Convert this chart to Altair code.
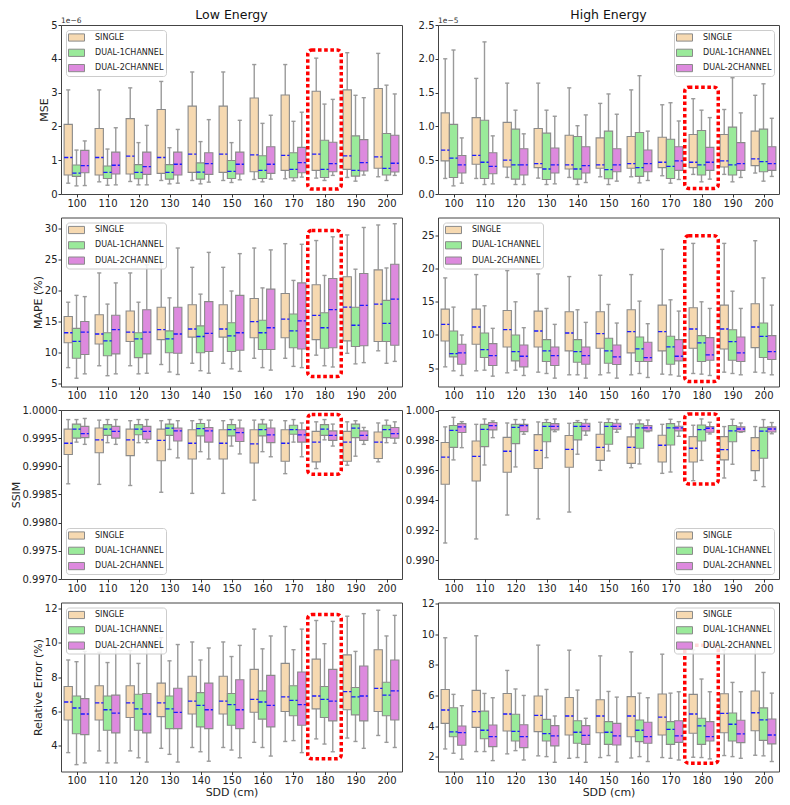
import altair as alt
import pandas as pd

FONT = "DejaVu Sans"
SDD = [100, 110, 120, 130, 140, 150, 160, 170, 180, 190, 200]
SERIES = ["SINGLE", "DUAL-1CHANNEL", "DUAL-2CHANNEL"]
COLORS = ["#f6d9b1", "#9aea9a", "#dd8ade"]
STATS = ["lo", "q1", "mean", "q3", "hi"]

# each row: [whisker low, Q1, mean line, Q3, whisker high], one row per SDD
# ---- Low energy, MSE (x1e-6)
LOW_MSE_SINGLE = [[0.32, 0.56, 1.08, 2.06, 3.08], [0.36, 0.56, 1.08, 1.94, 3.08], [0.37, 0.59, 1.12, 2.23, 3.14],
                  [0.40, 0.61, 1.08, 2.50, 3.33], [0.40, 0.64, 1.18, 2.60, 3.61], [0.40, 0.64, 1.18, 2.60, 3.61],
                  [0.43, 0.66, 1.16, 2.84, 3.83], [0.45, 0.70, 1.14, 2.93, 3.83], [0.47, 0.70, 1.18, 3.04, 4.02],
                  [0.49, 0.73, 1.13, 3.08, 4.18], [0.51, 0.76, 1.10, 3.12, 4.16]]
LOW_MSE_DUAL1 = [[0.24, 0.52, 0.62, 0.86, 1.30], [0.26, 0.46, 0.64, 0.83, 1.33], [0.27, 0.45, 0.64, 0.87, 1.52],
                 [0.30, 0.44, 0.64, 0.87, 1.37], [0.30, 0.44, 0.65, 0.92, 1.55], [0.34, 0.46, 0.67, 0.99, 1.52],
                 [0.36, 0.46, 0.70, 1.13, 2.09], [0.39, 0.48, 0.73, 1.22, 2.15], [0.40, 0.49, 0.73, 1.59, 2.66],
                 [0.38, 0.53, 0.70, 1.72, 2.92], [0.40, 0.56, 0.76, 1.79, 3.22]]
LOW_MSE_DUAL2 = [[0.25, 0.63, 0.84, 1.29, 1.57], [0.27, 0.59, 0.85, 1.24, 1.96], [0.27, 0.58, 0.81, 1.24, 2.03],
                 [0.32, 0.56, 0.88, 1.24, 1.91], [0.35, 0.58, 0.90, 1.22, 2.20], [0.42, 0.59, 0.88, 1.24, 2.18],
                 [0.44, 0.61, 0.88, 1.40, 2.33], [0.50, 0.63, 0.93, 1.38, 2.42], [0.55, 0.66, 0.90, 1.53, 2.80],
                 [0.56, 0.68, 0.93, 1.61, 2.85], [0.55, 0.65, 0.91, 1.74, 2.96]]
# ---- High energy, MSE (x1e-5)
HIGH_MSE_SINGLE = [[0.23, 0.49, 0.65, 1.20, 2.00], [0.23, 0.44, 0.57, 1.13, 1.71], [0.245, 0.40, 0.50, 1.06, 1.64],
                   [0.235, 0.39, 0.45, 0.97, 1.64], [0.245, 0.37, 0.43, 0.87, 1.57], [0.255, 0.38, 0.43, 0.83, 1.34],
                   [0.255, 0.38, 0.45, 0.85, 1.54], [0.27, 0.39, 0.47, 0.84, 1.32], [0.29, 0.39, 0.47, 0.88, 1.41],
                   [0.29, 0.40, 0.49, 0.88, 1.25], [0.31, 0.42, 0.52, 0.93, 1.46]]
HIGH_MSE_DUAL1 = [[0.12, 0.245, 0.53, 1.03, 2.13], [0.14, 0.23, 0.47, 1.09, 2.25], [0.14, 0.22, 0.43, 0.96, 1.24],
                  [0.14, 0.215, 0.37, 0.90, 1.24], [0.14, 0.22, 0.37, 0.85, 1.01], [0.14, 0.225, 0.36, 0.93, 1.48],
                  [0.165, 0.26, 0.39, 0.91, 1.75], [0.16, 0.23, 0.41, 0.81, 1.35], [0.18, 0.28, 0.43, 0.94, 1.24],
                  [0.18, 0.28, 0.43, 0.99, 1.72], [0.19, 0.33, 0.48, 0.96, 1.63]]
HIGH_MSE_DUAL2 = [[0.16, 0.31, 0.43, 0.57, 0.83], [0.15, 0.30, 0.41, 0.61, 0.86], [0.14, 0.28, 0.43, 0.67, 0.89],
                  [0.15, 0.31, 0.43, 0.68, 1.15], [0.17, 0.31, 0.42, 0.70, 1.17], [0.19, 0.33, 0.43, 0.67, 1.18],
                  [0.20, 0.33, 0.45, 0.65, 0.93], [0.215, 0.35, 0.49, 0.70, 1.08], [0.22, 0.35, 0.47, 0.69, 1.13],
                  [0.245, 0.35, 0.45, 0.76, 1.20], [0.26, 0.35, 0.45, 0.70, 1.12]]
# ---- Low energy, MAPE (%)
LOW_MAPE_SINGLE = [[7.6, 11.6, 13.2, 15.8, 18.1], [7.9, 11.4, 13.0, 16.1, 22.8], [7.9, 11.8, 13.3, 16.7, 22.8],
                   [8.1, 12.1, 13.7, 17.3, 24.5], [8.3, 12.5, 13.8, 17.7, 23.7], [8.3, 12.5, 13.8, 17.7, 23.7],
                   [9.1, 12.4, 15.0, 18.7, 26.8], [9.1, 12.4, 15.4, 19.5, 27.5], [9.6, 12.1, 16.0, 20.9, 28.0],
                   [9.9, 11.9, 17.3, 22.2, 28.9], [10.3, 11.8, 17.8, 23.3, 30.5]]
LOW_MAPE_DUAL1 = [[5.9, 9.1, 11.8, 13.9, 19.2], [6.3, 9.5, 11.9, 13.2, 17.8], [6.6, 9.2, 12.2, 13.2, 18.1],
                  [6.9, 10.0, 12.2, 13.5, 18.8], [7.1, 10.0, 12.6, 14.3, 19.4], [7.4, 10.2, 12.7, 14.8, 19.9],
                  [7.6, 10.5, 13.2, 15.2, 20.4], [7.8, 10.8, 13.5, 16.2, 21.6], [7.9, 10.7, 14.0, 16.4, 22.4],
                  [8.2, 11.0, 14.4, 17.3, 23.4], [8.3, 11.8, 14.7, 18.4, 23.6]]
LOW_MAPE_DUAL2 = [[6.6, 9.7, 13.3, 15.0, 19.0], [6.6, 9.8, 13.7, 16.0, 21.2], [6.7, 9.8, 13.3, 16.9, 24.1],
                  [6.5, 9.9, 13.0, 17.3, 26.8], [6.7, 10.2, 13.1, 18.2, 26.1], [7.0, 10.4, 13.2, 19.2, 25.9],
                  [7.2, 10.5, 14.0, 20.2, 26.5], [7.6, 10.6, 15.1, 21.2, 27.4], [7.7, 10.8, 16.9, 21.9, 28.6],
                  [8.4, 11.1, 17.6, 22.7, 30.1], [8.6, 11.2, 18.6, 24.2, 30.7]]
# ---- High energy, MAPE (%)
HIGH_MAPE_SINGLE = [[5.2, 9.1, 11.6, 13.9, 18.6], [4.6, 8.6, 11.2, 13.9, 19.1], [4.3, 8.2, 10.8, 13.7, 19.7],
                    [4.4, 8.2, 10.6, 13.6, 19.2], [4.0, 7.6, 10.3, 13.5, 18.8], [4.0, 8.0, 10.2, 13.5, 19.0],
                    [4.0, 7.3, 10.5, 13.8, 19.1], [4.1, 7.6, 10.5, 14.5, 22.9], [4.2, 8.0, 10.9, 14.1, 23.8],
                    [4.4, 7.9, 10.9, 14.5, 23.8], [4.4, 8.1, 11.2, 14.7, 24.2]]
HIGH_MAPE_DUAL1 = [[4.6, 6.7, 7.2, 10.6, 14.2], [4.7, 6.6, 7.8, 10.3, 14.4], [4.7, 6.1, 7.5, 10.0, 15.0],
                   [4.2, 6.0, 7.6, 9.3, 14.0], [4.0, 5.9, 7.5, 9.3, 13.8], [4.3, 5.75, 7.6, 9.5, 14.6],
                   [4.2, 6.0, 7.9, 9.7, 15.1], [4.0, 5.6, 8.2, 9.8, 15.3], [4.1, 6.0, 8.8, 9.9, 15.0],
                   [4.2, 6.2, 9.0, 10.8, 16.6], [4.3, 6.6, 9.8, 11.8, 18.6]]
HIGH_MAPE_DUAL2 = [[3.9, 5.6, 7.3, 8.6, 10.0], [3.8, 5.4, 6.9, 8.7, 11.0], [3.9, 5.2, 6.8, 8.5, 11.1],
                   [3.5, 5.4, 6.9, 8.2, 11.6], [3.5, 5.6, 6.9, 8.2, 11.9], [3.5, 5.55, 6.7, 8.5, 11.8],
                   [3.6, 6.0, 6.6, 8.9, 11.7], [3.8, 6.1, 6.8, 9.3, 13.6], [3.9, 6.2, 7.0, 9.6, 14.0],
                   [4.0, 6.0, 7.3, 9.7, 14.0], [4.0, 6.3, 7.5, 9.9, 14.5]]
# ---- Low energy, SSIM
LOW_SSIM_SINGLE = [[0.99869, 0.99921, 0.99941, 0.99966, 0.99983], [0.99868, 0.99924, 0.99947, 0.99968, 0.99982],
                   [0.99866, 0.99919, 0.99947, 0.99966, 0.99981], [0.99854, 0.99910, 0.99946, 0.99966, 0.99981],
                   [0.99852, 0.99913, 0.99941, 0.99965, 0.99981], [0.99852, 0.99913, 0.99941, 0.99965, 0.99981],
                   [0.99840, 0.99906, 0.99940, 0.99965, 0.99982], [0.99887, 0.99909, 0.99941, 0.99965, 0.99981],
                   [0.99896, 0.99908, 0.99943, 0.99962, 0.99979], [0.99902, 0.99909, 0.99943, 0.99962, 0.99979],
                   [0.99908, 0.99914, 0.99943, 0.99961, 0.99977]]
LOW_SSIM_DUAL1 = [[0.99943, 0.99950, 0.99966, 0.99975, 0.99983], [0.99942, 0.99955, 0.99966, 0.99974, 0.99983],
                  [0.99942, 0.99956, 0.99966, 0.99974, 0.99983], [0.99930, 0.99955, 0.99968, 0.99975, 0.99983],
                  [0.99926, 0.99954, 0.99967, 0.99976, 0.99983], [0.99936, 0.99954, 0.99965, 0.99974, 0.99983],
                  [0.99926, 0.99954, 0.99965, 0.99975, 0.99983], [0.99943, 0.99957, 0.99965, 0.99973, 0.99983],
                  [0.99947, 0.99955, 0.99966, 0.99974, 0.99983], [0.99918, 0.99951, 0.99968, 0.99975, 0.99981],
                  [0.99942, 0.99951, 0.99965, 0.99973, 0.99982]]
LOW_SSIM_DUAL2 = [[0.99939, 0.99951, 0.99958, 0.99971, 0.99985], [0.99939, 0.99950, 0.99962, 0.99971, 0.99983],
                  [0.99942, 0.99948, 0.99962, 0.99971, 0.99983], [0.99915, 0.99945, 0.99963, 0.99968, 0.99981],
                  [0.99913, 0.99943, 0.99963, 0.99969, 0.99982], [0.99922, 0.99944, 0.99960, 0.99968, 0.99982],
                  [0.99917, 0.99942, 0.99956, 0.99968, 0.99982], [0.99917, 0.99943, 0.99956, 0.99965, 0.99977],
                  [0.99936, 0.99946, 0.99955, 0.99963, 0.99975], [0.99939, 0.99946, 0.99955, 0.99963, 0.99969],
                  [0.99941, 0.99950, 0.99958, 0.99969, 0.99979]]
# ---- High energy, SSIM
HIGH_SSIM_SINGLE = [[0.99114, 0.99507, 0.99688, 0.99786, 0.99891], [0.99141, 0.99529, 0.99694, 0.99797, 0.99908],
                    [0.99301, 0.99587, 0.99728, 0.99821, 0.99917], [0.99275, 0.99612, 0.99734, 0.99839, 0.99924],
                    [0.99321, 0.99621, 0.99741, 0.99833, 0.99915], [0.99600, 0.99667, 0.99754, 0.99842, 0.99922],
                    [0.99618, 0.99647, 0.99754, 0.99824, 0.99911], [0.99580, 0.99656, 0.99768, 0.99835, 0.99908],
                    [0.99531, 0.99656, 0.99748, 0.99826, 0.99902], [0.99549, 0.99670, 0.99739, 0.99826, 0.99893],
                    [0.99533, 0.99598, 0.99732, 0.99819, 0.99893]]
HIGH_SSIM_DUAL1 = [[0.99670, 0.99754, 0.99868, 0.99900, 0.99955], [0.99636, 0.99759, 0.99875, 0.99908, 0.99944],
                   [0.99623, 0.99779, 0.99888, 0.99908, 0.99940], [0.99685, 0.99792, 0.99895, 0.99920, 0.99940],
                   [0.99708, 0.99804, 0.99895, 0.99920, 0.99933], [0.99730, 0.99775, 0.99895, 0.99920, 0.99944],
                   [0.99643, 0.99748, 0.99884, 0.99911, 0.99937], [0.99589, 0.99770, 0.99884, 0.99913, 0.99942],
                   [0.99667, 0.99797, 0.99873, 0.99904, 0.99944], [0.99641, 0.99792, 0.99864, 0.99900, 0.99942],
                   [0.99491, 0.99681, 0.99862, 0.99888, 0.99940]]
HIGH_SSIM_DUAL2 = [[0.99752, 0.99853, 0.99891, 0.99913, 0.99926], [0.99819, 0.99871, 0.99900, 0.99920, 0.99931],
                   [0.99842, 0.99859, 0.99900, 0.99908, 0.99940], [0.99859, 0.99871, 0.99895, 0.99913, 0.99944],
                   [0.99835, 0.99864, 0.99895, 0.99915, 0.99940], [0.99855, 0.99875, 0.99895, 0.99915, 0.99940],
                   [0.99859, 0.99864, 0.99884, 0.99900, 0.99937], [0.99828, 0.99864, 0.99884, 0.99895, 0.99926],
                   [0.99844, 0.99855, 0.99882, 0.99893, 0.99922], [0.99855, 0.99859, 0.99877, 0.99891, 0.99917],
                   [0.99845, 0.99857, 0.99877, 0.99891, 0.99920]]
# ---- Low energy, Relative Error (%)
LOW_RE_SINGLE = [[3.6, 5.5, 6.55, 7.45, 9.0], [3.7, 5.5, 6.5, 7.5, 9.45], [3.7, 5.65, 6.5, 7.5, 9.55],
                 [3.85, 5.7, 6.5, 7.65, 10.3], [3.9, 5.85, 6.6, 8.05, 10.05], [3.9, 5.85, 6.6, 8.05, 10.05],
                 [4.2, 5.95, 6.7, 8.45, 10.8], [4.25, 6.0, 6.85, 8.8, 10.95], [4.4, 6.15, 6.9, 9.05, 11.3],
                 [4.45, 6.1, 7.15, 9.3, 11.55], [4.6, 6.0, 7.35, 9.6, 11.9]]
LOW_RE_DUAL1 = [[2.9, 4.7, 6.2, 6.9, 8.9], [3.0, 4.9, 6.1, 6.9, 8.85], [3.3, 4.9, 6.15, 7.0, 8.8],
                [3.5, 5.0, 6.15, 6.9, 8.95], [3.65, 5.1, 6.35, 7.1, 9.0], [3.75, 5.2, 6.4, 7.05, 9.2],
                [3.9, 5.55, 6.55, 7.2, 9.65], [4.3, 5.75, 6.65, 7.5, 9.6], [4.1, 5.65, 6.7, 7.45, 9.95],
                [4.25, 5.8, 6.85, 7.4, 9.5], [4.2, 5.75, 6.95, 7.7, 10.4]]
LOW_RE_DUAL2 = [[3.0, 4.65, 5.85, 6.75, 9.5], [3.0, 4.75, 5.9, 6.95, 9.9], [3.05, 4.75, 5.85, 7.05, 9.9],
                [3.05, 5.0, 5.95, 7.35, 9.9], [3.1, 5.0, 6.1, 7.65, 9.7], [3.3, 5.0, 6.1, 7.85, 9.85],
                [3.4, 5.1, 6.35, 8.1, 10.4], [3.6, 5.2, 6.4, 8.3, 10.8], [3.65, 5.45, 6.6, 8.45, 11.25],
                [3.85, 5.45, 6.9, 8.65, 11.7], [3.9, 5.5, 7.2, 9.0, 11.6]]
# ---- High energy, Relative Error (%)
HIGH_RE_SINGLE = [[2.52, 4.19, 5.06, 6.40, 9.77], [2.35, 3.93, 4.95, 6.34, 9.90], [2.20, 3.69, 4.80, 6.14, 7.64],
                  [2.07, 3.65, 4.71, 5.97, 9.29], [1.91, 3.43, 4.67, 5.88, 8.96], [1.96, 3.58, 4.67, 5.73, 8.59],
                  [1.93, 3.32, 4.67, 5.93, 8.85], [1.96, 3.43, 4.60, 6.10, 8.70], [1.98, 3.54, 4.80, 6.08, 8.98],
                  [2.09, 3.58, 4.84, 6.12, 8.98], [2.11, 3.71, 4.88, 6.30, 9.14]]
HIGH_RE_DUAL1 = [[2.24, 3.32, 3.63, 5.21, 6.08], [2.35, 3.19, 3.74, 4.99, 6.14], [2.41, 3.04, 3.67, 4.78, 6.43],
                 [2.02, 3.04, 3.52, 4.45, 6.40], [1.96, 2.89, 3.61, 4.36, 6.36], [2.09, 2.82, 3.61, 4.30, 6.27],
                 [2.02, 3.00, 3.74, 4.41, 6.16], [1.91, 2.82, 3.80, 4.30, 6.16], [1.96, 2.82, 4.02, 4.52, 7.08],
                 [2.02, 3.04, 4.13, 4.86, 6.86], [2.07, 3.08, 4.41, 5.20, 7.51]]
HIGH_RE_DUAL2 = [[1.85, 2.76, 3.58, 4.02, 5.34], [1.76, 2.67, 3.32, 4.08, 5.86], [1.80, 2.61, 3.32, 4.10, 6.01],
                 [1.65, 2.72, 3.37, 4.04, 4.67], [1.65, 2.82, 3.41, 4.04, 4.52], [1.67, 2.78, 3.37, 4.19, 5.90],
                 [1.70, 2.89, 3.32, 4.26, 5.86], [1.80, 2.95, 3.37, 4.36, 6.25], [1.87, 3.04, 3.32, 4.30, 6.25],
                 [1.91, 2.93, 3.50, 4.39, 6.25], [1.70, 2.85, 3.43, 4.47, 6.16]]

# axis limits and tick values
LIM_LOW_MSE, TICKS_LOW_MSE = [0, 5], [0, 1, 2, 3, 4, 5]
LIM_HIGH_MSE, TICKS_HIGH_MSE = [0, 2.5], [0.0, 0.5, 1.0, 1.5, 2.0, 2.5]
LIM_LOW_MAPE, TICKS_LOW_MAPE = [4.57, 31.7], [5, 10, 15, 20, 25, 30]
LIM_HIGH_MAPE, TICKS_HIGH_MAPE = [2.24, 27.7], [5, 10, 15, 20, 25]
LIM_LOW_SSIM, TICKS_LOW_SSIM = [0.9970, 1.0000], [0.9970, 0.9975, 0.9980, 0.9985, 0.9990, 0.9995, 1.0000]
LIM_HIGH_SSIM, TICKS_HIGH_SSIM = [0.98873, 1.00004], [0.990, 0.992, 0.994, 0.996, 0.998, 1.000]
LIM_LOW_RE, TICKS_LOW_RE = [2.5, 12.35], [4, 6, 8, 10, 12]
LIM_HIGH_RE, TICKS_HIGH_RE = [1.05, 12.07], [2, 4, 6, 8, 10, 12]
X_LIM = [95, 205]

# red dotted highlight around SDD = 180 (x range, then y range per panel)
HL_X = [174.6, 185.4]
HL_LOW_MSE = [0.15, 4.26]
HL_HIGH_MSE = [0.083, 1.58]
HL_LOW_MAPE = [6.18, 29.6]
HL_HIGH_MAPE = [3.0, 24.95]
HL_LOW_SSIM = [0.99886, 0.99992]
HL_HIGH_SSIM = [0.99509, 0.99978]
HL_LOW_RE = [3.24, 11.65]
HL_HIGH_RE = [1.59, 9.29]

GROUP_W = 8.0
BOX_W = GROUP_W / 3
CAP_W = BOX_W / 2
EDGE = "#8a8a8a"
WHISK = "#9a9a9a"
LEGEND_PATH = "M-1.6,-0.72H1.6V0.72H-1.6Z"
PANEL_W, PANEL_H = 341, 169


def build_df(single, dual1, dual2):
    rows = []
    for k, (name, arr) in enumerate(zip(SERIES, [single, dual1, dual2])):
        for sdd, vals in zip(SDD, arr):
            d = dict(zip(STATS, vals))
            cx = sdd + (k - 1) * BOX_W
            d.update(sdd=sdd, series=name, cx=cx, x0=cx - BOX_W / 2, x1=cx + BOX_W / 2,
                     c0=cx - CAP_W / 2, c1=cx + CAP_W / 2)
            rows.append(d)
    return pd.DataFrame(rows)


def panel(arrs, lim, ticks, fmt, ytitle, orient, hl, title=None, xtitle=None, offset_text=None):
    df = build_df(*arrs)
    xs = alt.Scale(domain=X_LIM, nice=False, zero=False)
    ys = alt.Scale(domain=lim, nice=False, zero=False)
    xaxis = alt.Axis(values=SDD, format="d", title=xtitle, grid=False, labelFlush=False)
    yaxis = alt.Axis(values=ticks, format=fmt, title=ytitle, grid=False, labelFlush=False)

    def X(f):
        return alt.X(f, type="quantitative", scale=xs, axis=xaxis)

    def Y(f):
        return alt.Y(f, type="quantitative", scale=ys, axis=yaxis)

    base = alt.Chart(df)
    legend = alt.Legend(title=None, orient=orient, offset=5, padding=2,
                        fillColor="rgba(255,255,255,0.85)", strokeColor="#cccccc", cornerRadius=3,
                        symbolType=LEGEND_PATH, symbolSize=100, symbolStrokeColor=EDGE,
                        symbolStrokeWidth=1, symbolOpacity=1, symbolOffset=3, labelOffset=13,
                        labelFont=FONT, labelFontSize=8, labelColor="#222222", rowPadding=2.3)
    box = base.mark_rect(stroke=EDGE, strokeWidth=1.1, opacity=1).encode(
        x=X("x0"), x2="x1", y=Y("q1"), y2="q3",
        color=alt.Color("series:N", scale=alt.Scale(domain=SERIES, range=COLORS), legend=legend),
    )
    w_lo = base.mark_rule(color=WHISK, strokeWidth=1.4).encode(x=X("cx"), y=Y("lo"), y2="q1")
    w_hi = base.mark_rule(color=WHISK, strokeWidth=1.4).encode(x=X("cx"), y=Y("q3"), y2="hi")
    cap_lo = base.mark_rule(color=WHISK, strokeWidth=1.4).encode(x=X("c0"), x2="c1", y=Y("lo"))
    cap_hi = base.mark_rule(color=WHISK, strokeWidth=1.4).encode(x=X("c0"), x2="c1", y=Y("hi"))
    mean = base.mark_rule(color="#1a1aff", strokeWidth=1.3, strokeDash=[4.2, 1.9]).encode(
        x=X("x0"), x2="x1", y=Y("mean"))
    hl_df = pd.DataFrame({"hx0": [HL_X[0]], "hx1": [HL_X[1]], "hy0": [hl[0]], "hy1": [hl[1]]})
    box_hl = alt.Chart(hl_df).mark_rect(filled=False, stroke="#ff0000", strokeWidth=3.5,
                                        strokeDash=[3.6, 2.6], cornerRadius=4).encode(
        x=X("hx0"), x2="hx1", y=Y("hy0"), y2="hy1")
    layers = [w_lo, w_hi, cap_lo, cap_hi, box, mean, box_hl]
    if offset_text:
        t_df = pd.DataFrame({"t": [offset_text]})
        layers.append(alt.Chart(t_df).mark_text(align="left", baseline="alphabetic", fontSize=7.5,
                                                font=FONT, color="#333333").encode(
            text="t:N", x=alt.value(0), y=alt.value(-2)))
    ch = alt.layer(*layers).properties(width=PANEL_W, height=PANEL_H)
    if title:
        ch = ch.properties(title=alt.TitleParams(title, fontSize=12.5, fontWeight="normal", font=FONT,
                                                 offset=-4, frame="group", color="#111111"))
    return ch


panels = [
    panel([LOW_MSE_SINGLE, LOW_MSE_DUAL1, LOW_MSE_DUAL2], LIM_LOW_MSE, TICKS_LOW_MSE, "d", "MSE",
          "top-left", HL_LOW_MSE, title="Low Energy", offset_text="1e\u22126"),
    panel([HIGH_MSE_SINGLE, HIGH_MSE_DUAL1, HIGH_MSE_DUAL2], LIM_HIGH_MSE, TICKS_HIGH_MSE, ".1f", None,
          "top-right", HL_HIGH_MSE, title="High Energy", offset_text="1e\u22125"),
    panel([LOW_MAPE_SINGLE, LOW_MAPE_DUAL1, LOW_MAPE_DUAL2], LIM_LOW_MAPE, TICKS_LOW_MAPE, "d", "MAPE (%)",
          "top-left", HL_LOW_MAPE),
    panel([HIGH_MAPE_SINGLE, HIGH_MAPE_DUAL1, HIGH_MAPE_DUAL2], LIM_HIGH_MAPE, TICKS_HIGH_MAPE, "d", None,
          "top-left", HL_HIGH_MAPE),
    panel([LOW_SSIM_SINGLE, LOW_SSIM_DUAL1, LOW_SSIM_DUAL2], LIM_LOW_SSIM, TICKS_LOW_SSIM, ".4f", "SSIM",
          "bottom-left", HL_LOW_SSIM),
    panel([HIGH_SSIM_SINGLE, HIGH_SSIM_DUAL1, HIGH_SSIM_DUAL2], LIM_HIGH_SSIM, TICKS_HIGH_SSIM, ".3f", None,
          "bottom-right", HL_HIGH_SSIM),
    panel([LOW_RE_SINGLE, LOW_RE_DUAL1, LOW_RE_DUAL2], LIM_LOW_RE, TICKS_LOW_RE, "d", "Relative Error (%)",
          "top-left", HL_LOW_RE, xtitle="SDD (cm)"),
    panel([HIGH_RE_SINGLE, HIGH_RE_DUAL1, HIGH_RE_DUAL2], LIM_HIGH_RE, TICKS_HIGH_RE, "d", None,
          "top-right", HL_HIGH_RE, xtitle="SDD (cm)"),
]

chart = (
    alt.concat(*panels, columns=2, spacing={"row": 23.5, "column": 36}, bounds="flush")
    .resolve_scale(color="independent").resolve_legend(color="independent")
    .properties(padding={"left": 1, "top": 0, "right": 0, "bottom": 0}, background="white")
    .configure_axis(labelFont=FONT, titleFont=FONT, labelFontSize=10, titleFontSize=11,
                    titleFontWeight="normal", labelColor="#222222", titleColor="#222222",
                    tickSize=3, tickColor="#333333", domain=False, grid=False,
                    labelPadding=1, titlePadding=1)
    .configure_view(stroke="#444444", strokeWidth=1)
)

chart.save("out.html", embed_options={"renderer": "svg", "actions": False})
